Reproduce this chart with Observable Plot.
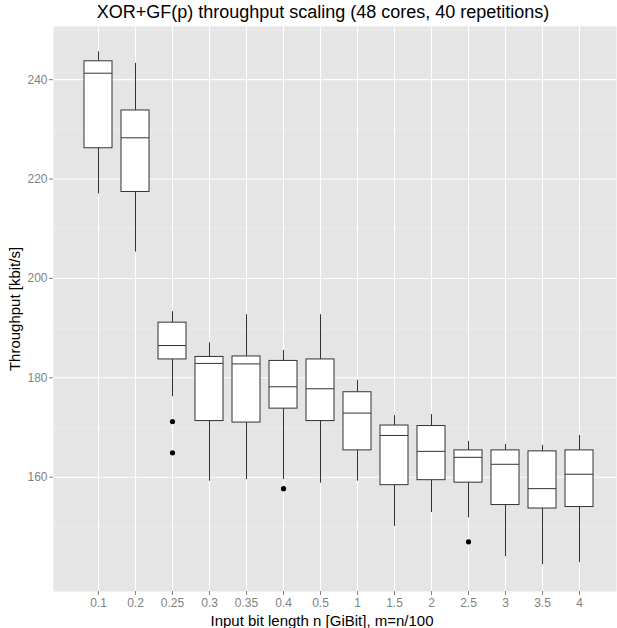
<!DOCTYPE html>
<html>
<head>
<meta charset="utf-8">
<script src="https://cdn.jsdelivr.net/npm/d3@7"></script>
<script src="https://cdn.jsdelivr.net/npm/@observablehq/plot@0.6"></script>
<style>
  html, body { margin: 0; padding: 0; background: #ffffff; }
  body { width: 617px; height: 628px; overflow: hidden; font-family: "Liberation Sans", Arial, sans-serif; }
  #title { position: relative; height: 26px; width: 617px; }
  #title span { position: absolute; left: 323px; top: 1px; transform: translateX(-50%); font-size: 18px; line-height: 22px; color: #000; white-space: nowrap; }
  #chart svg { display: block; }
</style>
</head>
<body>
<div id="title"><span>XOR+GF(p) throughput scaling (48 cores, 40 repetitions)</span></div>
<div id="chart"></div>
<script>
// Categories (input bit length n in GiBit)
const categories = ["0.1", "0.2", "0.25", "0.3", "0.35", "0.4", "0.5", "1", "1.5", "2", "2.5", "3", "3.5", "4"];
// Box statistics (kbit/s)
const whiskerLow  = [217.0, 205.3, 176.2, 159.2, 159.5, 159.5, 158.8, 159.2, 150.1, 152.9, 151.8, 144.0, 142.4, 142.8];
const q1          = [226.2, 217.4, 183.7, 171.3, 171.0, 173.8, 171.3, 165.4, 158.4, 159.4, 158.9, 154.4, 153.7, 154.0];
const median      = [241.3, 228.3, 186.5, 182.9, 182.8, 178.2, 177.8, 172.9, 168.4, 165.2, 164.0, 162.6, 157.7, 160.6];
const q3          = [243.7, 233.8, 191.1, 184.2, 184.3, 183.4, 183.7, 177.1, 170.4, 170.3, 165.4, 165.4, 165.2, 165.4];
const whiskerHigh = [245.6, 243.3, 193.3, 187.05, 192.7, 185.5, 192.7, 179.5, 172.4, 172.6, 167.2, 166.6, 166.4, 168.4];
// Outliers
const outlierCategory = ["0.25", "0.25", "0.4", "2.5"];
const outlierValue    = [171.2, 164.9, 157.7, 147.0];
// Axis ticks
const yTicks = [160, 180, 200, 220, 240];
const yMinor = [150, 170, 190, 210, 230, 250];
const xTitle = "Input bit length n [GiBit], m=n/100";
const yTitle = "Throughput [kbit/s]";

const boxes = categories.map((c, i) => ({
  cat: c, lo: whiskerLow[i], q1: q1[i], med: median[i], q3: q3[i], hi: whiskerHigh[i]
}));
const outliers = outlierCategory.map((c, i) => ({cat: c, v: outlierValue[i]}));

const W = 617, H = 602;
const mL = 53, mR = 1, mT = 0, mB = 37;
const boxStroke = "#333333";

const chart = Plot.plot({
  width: W,
  height: H,
  marginLeft: mL,
  marginRight: mR,
  marginTop: mT,
  marginBottom: mB,
  style: {fontFamily: "'Liberation Sans', Arial, sans-serif", background: "#ffffff"},
  x: {type: "band", domain: categories, range: [81.3, 594.7], paddingInner: 0.25, paddingOuter: 0, label: null},
  y: {domain: [137.0, 250.7], label: null},
  marks: [
    Plot.frame({fill: "#E5E5E5", stroke: null}),
    Plot.ruleY(yMinor, {stroke: "#F2F2F2", strokeWidth: 0.6}),
    Plot.ruleY(yTicks, {stroke: "#ffffff", strokeWidth: 1.1}),
    Plot.ruleX(categories, {x: d => d, stroke: "#ffffff", strokeWidth: 1.1}),
    Plot.ruleX(boxes, {x: "cat", y1: "lo", y2: "q1", stroke: boxStroke, strokeWidth: 1}),
    Plot.ruleX(boxes, {x: "cat", y1: "q3", y2: "hi", stroke: boxStroke, strokeWidth: 1}),
    Plot.barY(boxes, {x: "cat", y1: "q1", y2: "q3", fill: "#ffffff", stroke: boxStroke, strokeWidth: 1}),
    Plot.tickY(boxes, {x: "cat", y: "med", stroke: boxStroke, strokeWidth: 1}),
    Plot.dot(outliers, {x: "cat", y: "v", r: 2.6, fill: "#000000", stroke: null}),
    Plot.axisY({ticks: yTicks, tickSize: 4, tickPadding: 2, fontSize: 12, color: "#7f7f7f", label: null}),
    Plot.axisX({tickSize: 4, tickPadding: 3, fontSize: 12, color: "#7f7f7f", label: null}),
    Plot.text([xTitle], {frameAnchor: "bottom", dx: -13, dy: 34, lineAnchor: "bottom", textAnchor: "middle", fontSize: 15, fill: "#000"}),
    Plot.text([yTitle], {frameAnchor: "left", dx: -38, rotate: -90, textAnchor: "middle", fontSize: 15, fill: "#000"})
  ]
});
document.getElementById("chart").appendChild(chart);
</script>
</body>
</html>
